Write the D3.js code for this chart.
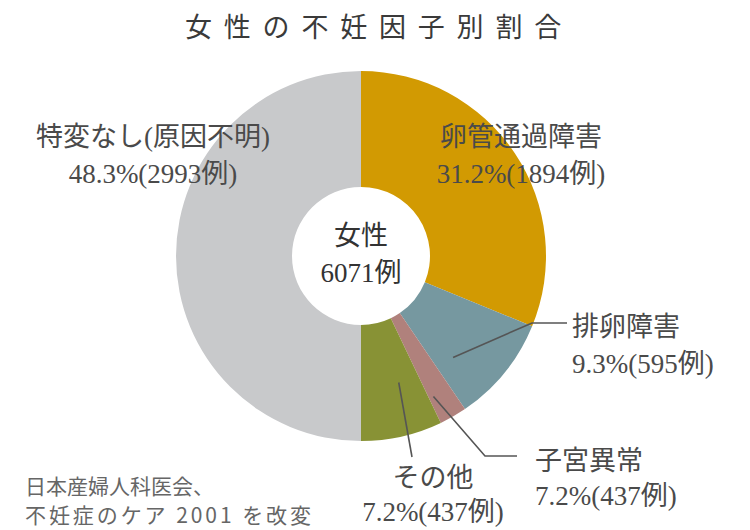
<!DOCTYPE html>
<html>
<head>
<meta charset="utf-8">
<script src="https://cdn.jsdelivr.net/npm/d3@7/dist/d3.min.js"></script>
<style>
  html, body { margin: 0; padding: 0; background: #fff; }
  svg { display: block; }
</style>
</head>
<body>
<svg id="chart" width="750" height="530"></svg>
<script>
// ---- data ----
const title = "女性の不妊因子別割合";
const categories = ["卵管通過障害", "排卵障害", "子宮異常", "その他", "特変なし(原因不明)"];
// slice shares as drawn in the picture (percent of circle)
const shares = [31.2, 9.3, 2.4, 7.1, 50.0];
const pctLabels = ["31.2%", "9.3%", "7.2%", "7.2%", "48.3%"];
const countLabels = ["(1894例)", "(595例)", "(437例)", "(437例)", "(2993例)"];
const colors = ["#D29A02", "#7698A0", "#B0817C", "#889235", "#C8C9CB"];
const centerLines = ["女性", "6071例"];
const sourceLines = ["日本産婦人科医会、", "不妊症のケア 2001 を改変"];

// ---- layout ----
const svg = d3.select("#chart");
const cx = 361, cy = 256, rOuter = 185, rInner = 69;
const serif = "'Liberation Serif', 'Noto Sans CJK JP', serif";
const sans = "'Noto Sans CJK JP', 'Noto Sans', sans-serif";

svg.append("text")
  .attr("x", 185).attr("y", 37)
  .attr("font-family", sans).attr("font-size", 27)
  .attr("letter-spacing", 11.8)
  .attr("fill", "#3a3a3a")
  .text(title);

const pie = d3.pie().sort(null).value(d => d);
const arcs = pie(shares);
const arc = d3.arc().innerRadius(rInner).outerRadius(rOuter);

const g = svg.append("g").attr("transform", `translate(${cx},${cy})`);
g.selectAll("path.slice").data(arcs).enter().append("path")
  .attr("class", "slice")
  .attr("d", arc)
  .attr("fill", (d, i) => colors[i]);

// center text
g.selectAll("text.center").data(centerLines).enter().append("text")
  .attr("class", "center")
  .attr("x", 0).attr("y", (d, i) => -11 + i * 37)
  .attr("text-anchor", "middle")
  .attr("font-family", serif).attr("font-size", 27)
  .attr("fill", "#333")
  .text(d => d);

// leader lines: slice index, fraction across slice, radius, elbow pts (relative to center)
const leaders = [
  { i: 1, t: 0.76, r: 137, pts: [[171, 67], [206, 67]] },
  { i: 2, t: 0.80, r: 158, pts: [[124, 200], [156, 200]] },
  { i: 3, t: 0.35, r: 132, pts: [[51, 201]] }
];
leaders.forEach(L => {
  const a = arcs[L.i];
  const ang = a.startAngle + (a.endAngle - a.startAngle) * L.t;
  const p0 = [L.r * Math.sin(ang), -L.r * Math.cos(ang)];
  g.append("path")
    .attr("d", d3.line()([p0, ...L.pts]))
    .attr("fill", "none")
    .attr("stroke", "#555")
    .attr("stroke-width", 1.6);
});

// slice labels (layout per slice)
const labelPos = [
  { x: 521, y: 146, gap: 37, anchor: "middle" },
  { x: 572, y: 336, gap: 37, anchor: "start" },
  { x: 535, y: 470, gap: 35, anchor: "start" },
  { x: 433, y: 487, gap: 34, anchor: "middle" },
  { x: 153, y: 146, gap: 37, anchor: "middle" }
];
categories.forEach((c, i) => {
  const p = labelPos[i];
  const t = svg.append("text")
    .attr("font-family", serif).attr("font-size", 27)
    .attr("fill", "#4a4a4a")
    .attr("text-anchor", p.anchor);
  t.append("tspan").attr("x", p.x).attr("y", p.y).text(c);
  t.append("tspan").attr("x", p.x).attr("y", p.y + p.gap).text(pctLabels[i] + countLabels[i]);
});

// source note
svg.selectAll("text.src").data(sourceLines).enter().append("text")
  .attr("class", "src")
  .attr("x", 25).attr("y", (d, i) => 494 + i * 29)
  .attr("font-family", sans).attr("font-size", 21)
  .attr("fill", "#666")
  .attr("textLength", (d, i) => i === 1 ? 286 : null)
  .attr("lengthAdjust", "spacing")
  .text(d => d);
</script>
</body>
</html>
